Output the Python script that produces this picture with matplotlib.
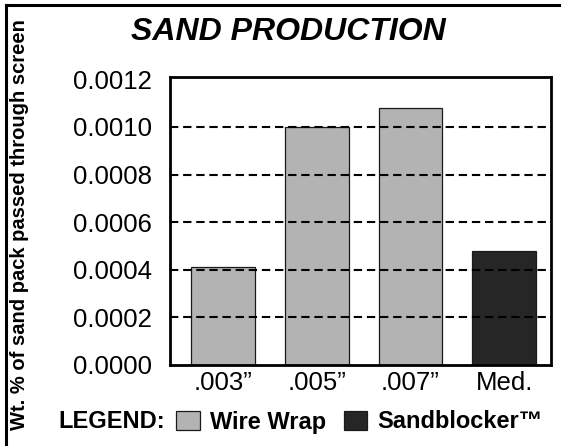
import matplotlib
matplotlib.use("Agg")
import matplotlib.pyplot as plt
from matplotlib.patches import Patch
from matplotlib.lines import Line2D

plt.rcParams['font.family'] = ['Liberation Sans', 'DejaVu Sans']

# data
categories = ['.003\u201d', '.005\u201d', '.007\u201d', 'Med.']
values = [0.00041, 0.00100, 0.00108, 0.00048]
series = ['Wire Wrap', 'Wire Wrap', 'Wire Wrap', 'Sandblocker\u2122']
yticks = [0.0000, 0.0002, 0.0004, 0.0006, 0.0008, 0.0010, 0.0012]
ytick_labels = ['0.0000', '0.0002', '0.0004', '0.0006', '0.0008', '0.0010', '0.0012']
grid_vals = [0.0002, 0.0004, 0.0006, 0.0008, 0.0010]

colors = {'Wire Wrap': '#b3b3b3', 'Sandblocker\u2122': '#262626'}

fig = plt.figure(figsize=(5.61, 4.46), dpi=100)
ax = fig.add_axes([170/561, 1 - 365/446, (551 - 170)/561, (365 - 77)/446])

x = list(range(len(categories)))
ax.bar(x, values, width=0.68, color=[colors[s] for s in series],
       edgecolor='#1a1a1a', linewidth=0.9, zorder=2)

for g in grid_vals:
    ax.axhline(g, color='black', linewidth=1.5, linestyle=(0, (4.0, 2.3)), zorder=3)

ax.set_xlim(-0.564, 3.5)
ax.set_ylim(0, 0.00121)
ax.set_xticks(x)
ax.set_xticklabels(categories, fontsize=18.5)
ax.set_yticks(yticks)
ax.set_yticklabels(ytick_labels, fontsize=18.5)
ax.tick_params(axis='x', length=0, pad=4)
ax.tick_params(axis='y', length=0, pad=13)
for sp in ax.spines.values():
    sp.set_linewidth(2)
    sp.set_zorder(4)

fig.text(288/561, 1 - 31.5/446, 'SAND PRODUCTION', fontsize=23, fontweight='bold',
         fontstyle='italic', ha='center', va='center')
fig.text(20/561, 1 - 225/446, 'Wt. % of sand pack passed through screen', fontsize=14.5,
         fontweight='bold', rotation=90, ha='center', va='center')

# legend row
fig.text(58/561, 1 - 422/446, 'LEGEND:', fontsize=17, fontweight='bold', ha='left', va='center')
handles = [Patch(facecolor=colors[k], edgecolor='#1a1a1a', linewidth=0.9) for k in colors]
fig.legend(handles, list(colors.keys()), loc='center left', bbox_to_anchor=(176/561, 1 - 422/446),
           ncol=2, frameon=False, prop={'weight': 'bold', 'size': 17},
           handlelength=1.0, handleheight=0.9, handletextpad=0.42, columnspacing=0.76,
           borderpad=0, borderaxespad=0)

# outer frame lines (top and left)
fig.add_artist(Line2D([6/561, 1], [1 - 5/446, 1 - 5/446], transform=fig.transFigure,
                      color='black', linewidth=2.2))
fig.add_artist(Line2D([6/561, 6/561], [0, 1 - 5/446], transform=fig.transFigure,
                      color='black', linewidth=2.2))

fig.savefig('out.png', dpi=100)
